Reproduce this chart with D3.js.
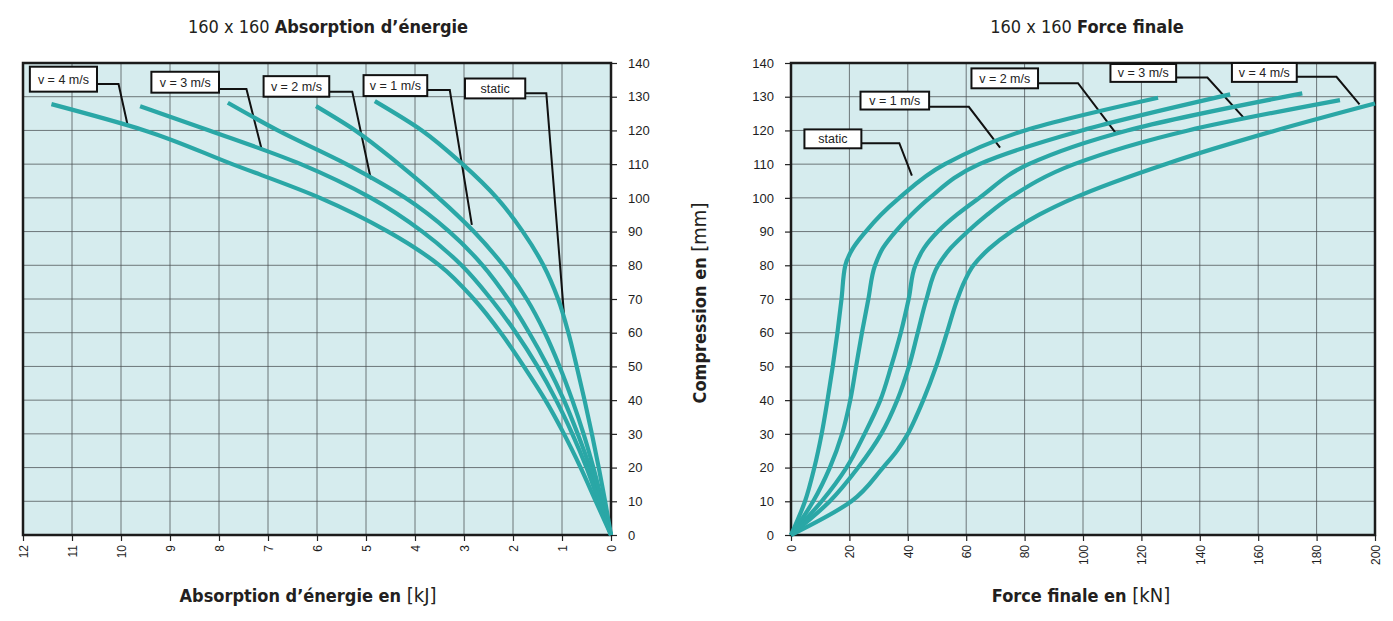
<!DOCTYPE html>
<html>
<head>
<meta charset="utf-8">
<script src="https://cdn.jsdelivr.net/npm/d3@7"></script>
<style>
  html, body { margin: 0; padding: 0; background: #fff; }
  svg { display: block; }
</style>
</head>
<body>
<div id="chart"></div>
<script>
// values: [x, compression mm]
const energyStatic = [[0,0],[0.12,10],[0.25,20],[0.39,30],[0.54,40],[0.70,50],[0.87,60],[1.08,70],[1.38,80],[1.80,90],[2.33,100],[3.03,110],[3.86,120],[4.82,128.7]];
const energyV1 = [[0,0],[0.18,10],[0.36,20],[0.56,30],[0.79,40],[1.05,50],[1.35,60],[1.72,70],[2.20,80],[2.80,90],[3.52,100],[4.33,110],[5.22,120],[6.02,127.2]];
const energyV2 = [[0,0],[0.22,10],[0.43,20],[0.68,30],[0.96,40],[1.29,50],[1.67,60],[2.10,70],[2.62,80],[3.30,90],[4.20,100],[5.40,110],[6.80,120],[7.82,128.2]];
const energyV3 = [[0,0],[0.25,10],[0.50,20],[0.79,30],[1.12,40],[1.50,50],[1.94,60],[2.45,70],[3.05,80],[3.85,90],[4.90,100],[6.33,110],[8.20,120],[9.61,127.2]];
const energyV4 = [[0,0],[0.31,10],[0.62,20],[0.96,30],[1.34,40],[1.78,50],[2.25,60],[2.80,70],[3.50,80],[4.55,90],[5.94,100],[7.73,110],[9.52,120],[11.42,127.8]];

const forceStatic = [[0,0],[4.8,10],[8.0,20],[10.5,30],[12.5,40],[14.3,50],[15.9,60],[17.3,70],[18.6,80],[21.2,85],[25.6,90],[30.8,95],[37.1,100],[52.7,110],[80.1,120],[125.7,129.7]];
const forceV1 = [[0,0],[7.6,10],[13.3,20],[17.5,30],[20.3,40],[22.3,50],[24.3,60],[26.5,70],[28.8,80],[31.4,85],[35.8,90],[41.2,95],[47.5,100],[64.5,110],[99.6,120],[150.4,130.7]];
const forceV2 = [[0,0],[10.5,10],[19.0,20],[25.2,30],[30.6,40],[34.3,50],[37.6,60],[40.3,70],[42.6,80],[45.5,85],[50.3,90],[56.8,95],[64.5,100],[81.4,110],[115.2,120],[175.1,131]];
const forceV3 = [[0,0],[13.3,10],[23.0,20],[30.9,30],[36.4,40],[40.4,50],[43.4,60],[46.4,70],[50.4,80],[54.6,85],[60.5,90],[67.2,95],[74.9,100],[97.0,110],[136.0,120],[188.0,129]];
const forceV4 = [[0,0],[20.7,10],[31.5,20],[36.3,25],[40.0,30],[42.8,35],[45.3,40],[49.7,50],[53.4,60],[57.0,70],[59.3,75],[62.5,80],[68.0,85],[75.5,90],[85.0,95],[97.0,100],[128.2,110],[166.0,120],[200.0,128]];

const seriesNames = ["static", "v = 1 m/s", "v = 2 m/s", "v = 3 m/s", "v = 4 m/s"];
const compressionTicks = [0,10,20,30,40,50,60,70,80,90,100,110,120,130,140];
const energyTicks = [12,11,10,9,8,7,6,5,4,3,2,1,0];
const forceTicks = [0,20,40,60,80,100,120,140,160,180,200];

// callouts: box corners [x1,y1,x2,y2], leader y, elbow x, target [x,y] (data units)
const energyCallouts = [
  [[2.98,135.4,1.75,129.5], 131.0, 1.32, [0.96,65.5]],
  [[5.05,136.4,3.75,130.2], 132.0, 3.29, [2.84,92]],
  [[7.09,136.1,5.75,130.0], 131.5, 5.28, [4.90,105.5]],
  [[9.38,137.4,8.00,131.2], 132.3, 7.44, [7.13,114.4]],
  [[11.86,138.9,10.49,131.5], 133.75, 10.05, [9.87,121.9]]
];
const forceCallouts = [
  [[4.6,120.3,24.1,114.7], 116.2, 37.1, [41.4,106.6]],
  [[23.8,131.5,47.3,126.2], 127.0, 60.9, [71.6,114.9]],
  [[61.8,138.4,84.6,132.5], 134.0, 98.3, [111.3,119.1]],
  [[109.4,139.7,131.9,134.4], 135.7, 142.6, [155.0,123.8]],
  [[151.0,140.0,173.2,134.4], 135.9, 186.8, [194.7,127.7]]
];

const W = 1393, H = 621;
const teal = "#2aa7a6";
const svg = d3.select("#chart").append("svg").attr("width", W).attr("height", H);
const titleFont = "'Liberation Sans Narrow', 'DejaVu Sans Condensed', 'Liberation Sans', sans-serif";
const tickFont = "'Liberation Sans', Arial, sans-serif";

function panel(cfg) {
  const x = d3.scaleLinear().domain(cfg.xDomain).range(cfg.xRange);
  const y = d3.scaleLinear().domain([0, 140]).range([535, 63]);
  const g = svg.append("g");
  const [x0, x1] = cfg.xRange;

  g.append("rect").attr("x", x0).attr("y", 63).attr("width", x1 - x0).attr("height", 472).attr("fill", "#d6ecee");

  const grid = g.append("g").attr("stroke", "#4a4f52").attr("stroke-width", 1).attr("stroke-opacity", 0.75);
  grid.selectAll("line.v").data(cfg.xTicks).join("line").attr("class", "v")
    .attr("x1", (d) => x(d)).attr("x2", (d) => x(d)).attr("y1", 63).attr("y2", 535);
  grid.selectAll("line.h").data(compressionTicks).join("line").attr("class", "h")
    .attr("x1", x0).attr("x2", x1).attr("y1", (d) => y(d)).attr("y2", (d) => y(d));

  // axes
  const ax = g.append("g").attr("transform", "translate(0,535)")
    .call(d3.axisBottom(x).tickValues(cfg.xTicks).tickSize(6).tickFormat(d3.format("d")));
  ax.selectAll("text").attr("transform", "rotate(-90)").attr("text-anchor", "end")
    .attr("x", -10).attr("y", 0).attr("dy", "0.35em").attr("font-size", 12);
  const ay = g.append("g").attr("transform", `translate(${cfg.yAxisX},0)`)
    .call((cfg.yRight ? d3.axisRight(y) : d3.axisLeft(y)).tickValues(compressionTicks).tickSize(6).tickPadding(11));
  ay.selectAll("text").attr("font-size", 13);
  g.selectAll(".domain").remove();
  g.selectAll(".tick line").attr("stroke", "#222").attr("stroke-width", 1.2);
  g.selectAll(".tick text").attr("fill", "#1e1e1e").attr("font-family", tickFont);

  // frame
  g.append("rect").attr("x", x0).attr("y", 63).attr("width", x1 - x0).attr("height", 472)
    .attr("fill", "none").attr("stroke", "#1b1b1b").attr("stroke-width", 2.5);

  // callouts
  const co = g.append("g");
  cfg.callouts.forEach(([box, ly, ex, target], i) => {
    const bx = Math.min(x(box[0]), x(box[2])), bw = Math.abs(x(box[2]) - x(box[0]));
    const by = y(box[1]), bh = y(box[3]) - y(box[1]);
    co.append("path").attr("fill", "none").attr("stroke", "#111").attr("stroke-width", 2)
      .attr("d", `M${bx + bw},${y(ly)}L${x(ex)},${y(ly)}L${x(target[0])},${y(target[1])}`);
    co.append("rect").attr("x", bx).attr("y", by).attr("width", bw).attr("height", bh)
      .attr("fill", "#fff").attr("stroke", "#111").attr("stroke-width", 2);
    co.append("text").attr("x", bx + bw / 2).attr("y", by + bh / 2).attr("dy", "0.35em")
      .attr("text-anchor", "middle").attr("font-family", tickFont).attr("font-size", 12.5)
      .attr("fill", "#222").text(seriesNames[i]);
  });

  const line = d3.line().x((d) => x(d[0])).y((d) => y(d[1])).curve(d3.curveMonotoneY);
  g.append("g").selectAll("path").data(cfg.series).join("path")
    .attr("fill", "none").attr("stroke", teal).attr("stroke-width", 4.2)
    .attr("stroke-linejoin", "round").attr("d", line);

  // titles
  const t = svg.append("text").attr("x", cfg.titleX).attr("y", 33).attr("text-anchor", "middle")
    .attr("font-family", titleFont).attr("font-size", 18).attr("fill", "#231f20");
  t.append("tspan").text("160 x 160 ");
  t.append("tspan").attr("font-weight", "bold").text(cfg.title);

  const xt = svg.append("text").attr("x", cfg.xTitleX).attr("y", 602).attr("text-anchor", "middle")
    .attr("font-family", titleFont).attr("font-size", 18).attr("fill", "#231f20");
  xt.append("tspan").attr("font-weight", "bold").text(cfg.xTitle + " ");
  xt.append("tspan").attr("font-size", 20).text(cfg.unit);
}

panel({
  xDomain: [12, 0], xRange: [23, 611], xTicks: energyTicks, yAxisX: 611, yRight: true,
  series: [energyStatic, energyV1, energyV2, energyV3, energyV4], callouts: energyCallouts,
  title: "Absorption d’énergie", titleX: 328, xTitle: "Absorption d’énergie en", unit: "[kJ]", xTitleX: 308
});
panel({
  xDomain: [0, 200], xRange: [791, 1375], xTicks: forceTicks, yAxisX: 791, yRight: false,
  series: [forceStatic, forceV1, forceV2, forceV3, forceV4], callouts: forceCallouts,
  title: "Force finale", titleX: 1087, xTitle: "Force finale en", unit: "[kN]", xTitleX: 1081
});

const yt = svg.append("text").attr("transform", "translate(706,303) rotate(-90)").attr("text-anchor", "middle")
  .attr("font-family", titleFont).attr("font-size", 18).attr("fill", "#231f20");
yt.append("tspan").attr("font-weight", "bold").text("Compression en ");
yt.append("tspan").attr("font-size", 20).text("[mm]");
</script>
</body>
</html>
